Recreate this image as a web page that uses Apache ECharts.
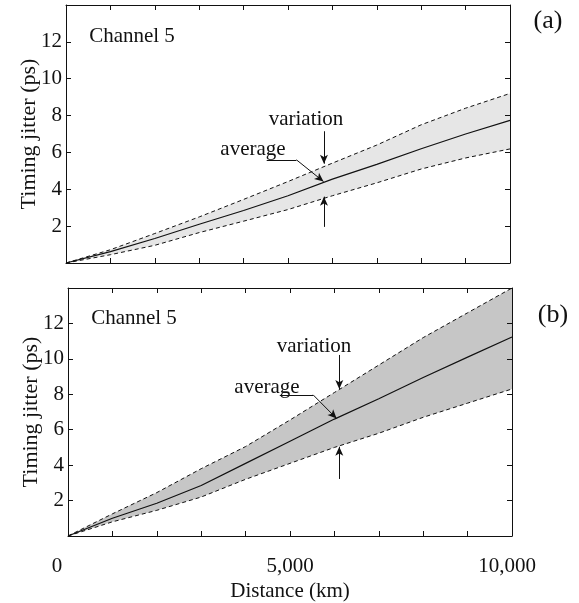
<!DOCTYPE html>
<html>
<head>
    <meta charset="UTF-8">
    <title>Timing jitter</title>
    <style>
        html, body { margin: 0; padding: 0; background: #fff; }
        #chart { width: 579px; height: 603px; }
    </style>
</head>
<body>
<div id="chart"></div>
<script src="https://cdn.jsdelivr.net/npm/echarts@6/dist/echarts.min.js"></script>
<script>
    // distance in km
    var distance = [0, 1000, 2000, 3000, 4000, 5000, 6000, 7000, 8000, 9000, 10000];
    // panel (a)
    var avgA   = [0, 0.62, 1.33, 2.10, 2.85, 3.65, 4.55, 5.35, 6.20, 7.00, 7.74];
    var upperA = [0, 0.72, 1.60, 2.50, 3.45, 4.42, 5.42, 6.40, 7.50, 8.40, 9.20];
    var lowerA = [0, 0.45, 0.96, 1.65, 2.27, 2.90, 3.65, 4.35, 5.10, 5.70, 6.19];
    // panel (b)
    var avgB   = [0, 1.00, 1.85, 2.85, 4.10, 5.35, 6.60, 7.75, 8.95, 10.10, 11.23];
    var upperB = [0, 1.25, 2.45, 3.80, 5.05, 6.55, 8.10, 9.65, 11.20, 12.60, 14.00];
    var lowerB = [0, 0.80, 1.45, 2.20, 3.20, 4.10, 5.00, 5.80, 6.70, 7.50, 8.30];
    // tick labels
    var xTickLabels = { 0: '{z|0}', 5000: '5,000', 10000: '{t|10,000}' };
    var yHidden = [0, 14];

    var FONT = '"Liberation Serif", "Times New Roman", serif';
    var INK = '#111';

    function pairs(ys) {
        return distance.map(function (d, i) { return [d, ys[i]]; });
    }

    function xAx(grid, pos, labels) {
        var rs = { fontFamily: FONT, fontSize: 21, color: INK };
        return {
            type: 'value', gridIndex: grid, position: pos,
            min: 0, max: 10000, interval: 1000,
            axisLine: { show: true, onZero: false, lineStyle: { color: INK, width: 1 } },
            axisTick: { show: true, inside: true, length: 5, lineStyle: { color: INK } },
            splitLine: { show: false },
            axisLabel: labels ? {
                show: true, margin: 20, color: INK, fontFamily: FONT, fontSize: 21,
                formatter: function (v) {
                    return xTickLabels[v] !== undefined ? xTickLabels[v] : '';
                },
                rich: {
                    z: Object.assign({ padding: [0, 22, 0, 0] }, rs),
                    t: Object.assign({ padding: [0, 10, 0, 0] }, rs)
                }
            } : { show: false },
            name: labels ? 'Distance (km)' : '',
            nameLocation: 'middle', nameGap: 45, nameMoveOverlap: false,
            nameTextStyle: { color: INK, fontFamily: FONT, fontSize: 21 },
            z: 10
        };
    }
    function yAx(grid, pos, labels) {
        return {
            type: 'value', gridIndex: grid, position: pos,
            min: 0, max: 14, interval: 2,
            axisLine: { show: true, onZero: false, lineStyle: { color: INK, width: 1 } },
            axisTick: { show: true, inside: true, length: 5, lineStyle: { color: INK } },
            splitLine: { show: false },
            axisLabel: labels ? {
                show: true, margin: 4, color: INK, fontFamily: FONT, fontSize: 21,
                formatter: function (v) { return yHidden.indexOf(v) >= 0 ? '' : String(v); }
            } : { show: false },
            name: labels ? 'Timing jitter (ps)' : '',
            nameLocation: 'middle', nameGap: 26, nameMoveOverlap: false,
            nameTextStyle: { color: INK, fontFamily: FONT, fontSize: 22 },
            z: 10
        };
    }

    function arrowSeg(a, b, head) {
        return [
            { coord: a, symbol: 'none' },
            { coord: b, symbol: head ? 'arrow' : 'none', symbolSize: [6, 9] }
        ];
    }

    // band = grey area under upper curve, cut away by white area under lower curve
    function panel(grid, avg, upper, lower, band, notes) {
        var dashed = { color: INK, width: 1, type: [4, 3] };
        var ax = { xAxisIndex: grid * 2, yAxisIndex: grid * 2, symbol: 'none', showSymbol: false };
        return [
            Object.assign({
                type: 'line', data: pairs(upper), lineStyle: dashed,
                areaStyle: { color: band, opacity: 1, origin: 'start' }, z: 2
            }, ax),
            Object.assign({
                type: 'line', data: pairs(lower), lineStyle: dashed,
                areaStyle: { color: '#fff', opacity: 1, origin: 'start' }, z: 3
            }, ax),
            Object.assign({
                type: 'line', data: pairs(avg), lineStyle: { color: INK, width: 1.2 }, z: 4,
                markLine: {
                    silent: true, animation: false,
                    label: { show: false },
                    lineStyle: { color: INK, width: 1, type: 'solid' },
                    data: notes
                }
            }, ax)
        ];
    }

    // annotation anchors, in data coordinates
    var notesA = [
        arrowSeg([5810, 7.15], [5810, 5.39], true),
        arrowSeg([5810, 1.96], [5810, 3.60], true),
        arrowSeg([4520, 5.60], [5190, 5.60], false),
        arrowSeg([5190, 5.60], [5800, 4.42], true)
    ];
    var notesB = [
        arrowSeg([6110, 10.22], [6110, 8.30], true),
        arrowSeg([6110, 3.22], [6110, 5.04], true),
        arrowSeg([4770, 7.97], [5520, 7.97], false),
        arrowSeg([5520, 7.97], [6050, 6.63], true)
    ];

    function txt(x, y, s, size) {
        return {
            type: 'text', x: x, y: y, silent: true, z: 100,
            style: {
                text: s, fill: INK, font: (size || 21) + 'px ' + FONT,
                align: 'center', verticalAlign: 'middle'
            }
        };
    }

    var chart = echarts.init(document.getElementById('chart'), null, { renderer: 'canvas' });
    chart.setOption({
        animation: false,
        backgroundColor: '#fff',
        grid: [
            { left: 66, top: 5, width: 444, height: 258 },
            { left: 68, top: 288, width: 444, height: 258 }
        ],
        xAxis: [xAx(0, 'bottom', false), xAx(0, 'top', false), xAx(1, 'bottom', true), xAx(1, 'top', false)],
        yAxis: [yAx(0, 'left', true), yAx(0, 'right', false), yAx(1, 'left', true), yAx(1, 'right', false)],
        series: panel(0, avgA, upperA, lowerA, '#e6e6e6', notesA)
            .concat(panel(1, avgB, upperB, lowerB, '#c6c6c6', notesB)),
        graphic: [
            txt(132, 36, 'Channel 5'),
            txt(134, 318, 'Channel 5'),
            txt(306, 119, 'variation'),
            txt(253, 149, 'average'),
            txt(314, 346, 'variation'),
            txt(267, 387, 'average'),
            txt(548, 21, '(a)', 26),
            txt(553, 315, '(b)', 26)
        ]
    });
</script>
</body>
</html>
